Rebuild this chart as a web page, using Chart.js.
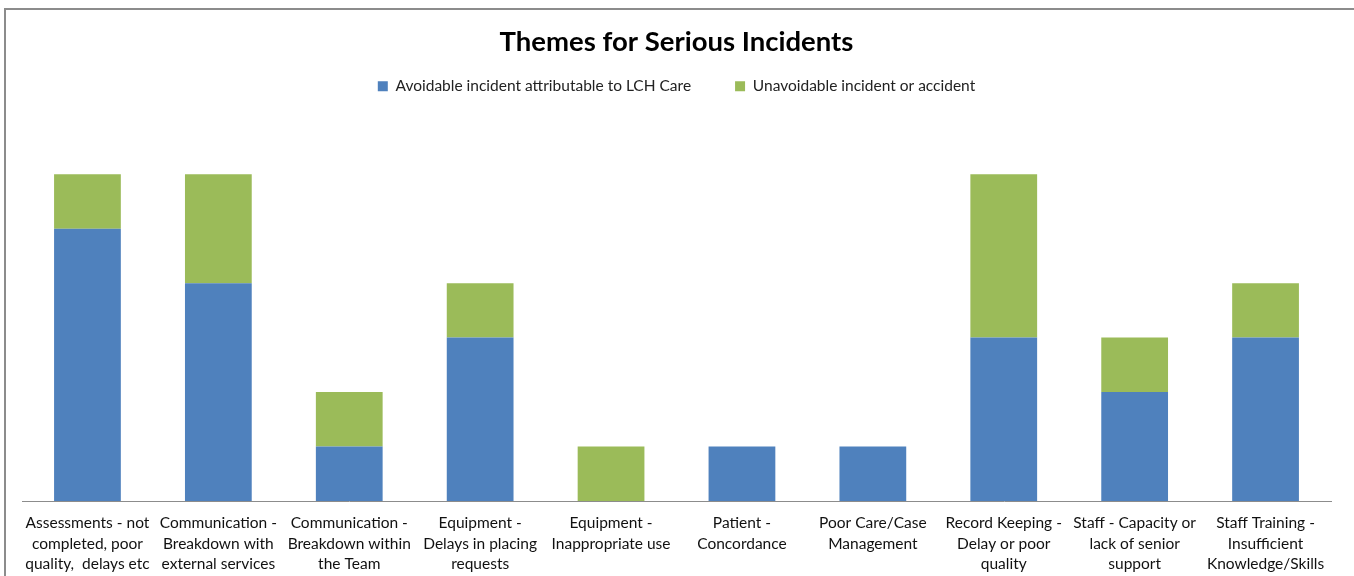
<!DOCTYPE html>
<html>
<head>
<meta charset="utf-8">
<script src="https://cdn.jsdelivr.net/npm/chart.js@4.4.1/dist/chart.umd.min.js"></script>
<style>
  html, body { margin: 0; padding: 0; background: #fff; overflow: hidden; }
  #frame { position: absolute; left: 4px; top: 8px; width: 1400px; height: 620px; border: 2px solid #8c8c8c; box-sizing: border-box; }
  #wrap { position: absolute; left: 0; top: 0; width: 1354px; height: 576px; }
</style>
</head>
<body>
<div id="frame"></div>
<div id="wrap"><canvas id="c" width="1354" height="576"></canvas></div>
<script>
const categories = [
  ["Assessments - not", "completed, poor", "quality,  delays etc"],
  ["Communication -", "Breakdown with", "external services"],
  ["Communication -", "Breakdown within", "the Team"],
  ["Equipment -", "Delays in placing", "requests"],
  ["Equipment -", "Inappropriate use"],
  ["Patient -", "Concordance"],
  ["Poor Care/Case", "Management"],
  ["Record Keeping -", "Delay or poor", "quality"],
  ["Staff - Capacity or", "lack of senior", "support"],
  ["Staff Training -", "Insufficient", "Knowledge/Skills"]
];
const avoidable = [5, 4, 1, 3, 0, 1, 1, 3, 2, 3];
const unavoidable = [1, 2, 1, 1, 1, 0, 0, 3, 1, 1];
const seriesNames = ["Avoidable incident attributable to LCH Care", "Unavoidable incident or accident"];
const titleText = "Themes for Serious Incidents";

const FONT = "Lato, 'Open Sans', sans-serif";

new Chart(document.getElementById('c'), {
  type: 'bar',
  data: {
    labels: categories,
    datasets: [
      { label: seriesNames[0], data: avoidable, backgroundColor: '#4F81BD', categoryPercentage: 1.0, barPercentage: 0.51 },
      { label: seriesNames[1], data: unavoidable, backgroundColor: '#9BBB59', categoryPercentage: 1.0, barPercentage: 0.51 }
    ]
  },
  options: {
    responsive: false,
    animation: false,
    layout: { padding: { left: 22, right: 23, top: 0, bottom: 0 } },
    plugins: {
      title: {
        display: true,
        text: titleText,
        color: '#000',
        font: { family: FONT, size: 27.5, weight: 'bold' },
        padding: { top: 25.5, bottom: -24 }
      },
      legend: {
        display: true,
        position: 'top',
        labels: {
          color: '#222',
          font: { family: FONT, size: 15.5 },
          boxWidth: 10,
          boxHeight: 10,
          padding: 44,
          useBorderRadius: false
        }
      },
      tooltip: { enabled: false }
    },
    scales: {
      x: {
        stacked: true,
        grid: { display: false, drawTicks: false },
        border: { display: true, color: '#8c8c8c', width: 1 },
        ticks: {
          color: '#111',
          font: { family: FONT, size: 15.5, lineHeight: 1.32 },
          maxRotation: 0,
          autoSkip: false,
          padding: 12
        },
        afterFit: (s) => { s.height = 75; }
      },
      xTop: {
        axis: 'x',
        type: 'category',
        position: 'top',
        display: true,
        grid: { display: false, drawTicks: false },
        border: { display: false },
        ticks: { display: false },
        afterFit: (s) => { s.height = 15.75; }
      },
      y: {
        stacked: true,
        display: false,
        min: 0,
        max: 7
      }
    }
  }
});
</script>
</body>
</html>
